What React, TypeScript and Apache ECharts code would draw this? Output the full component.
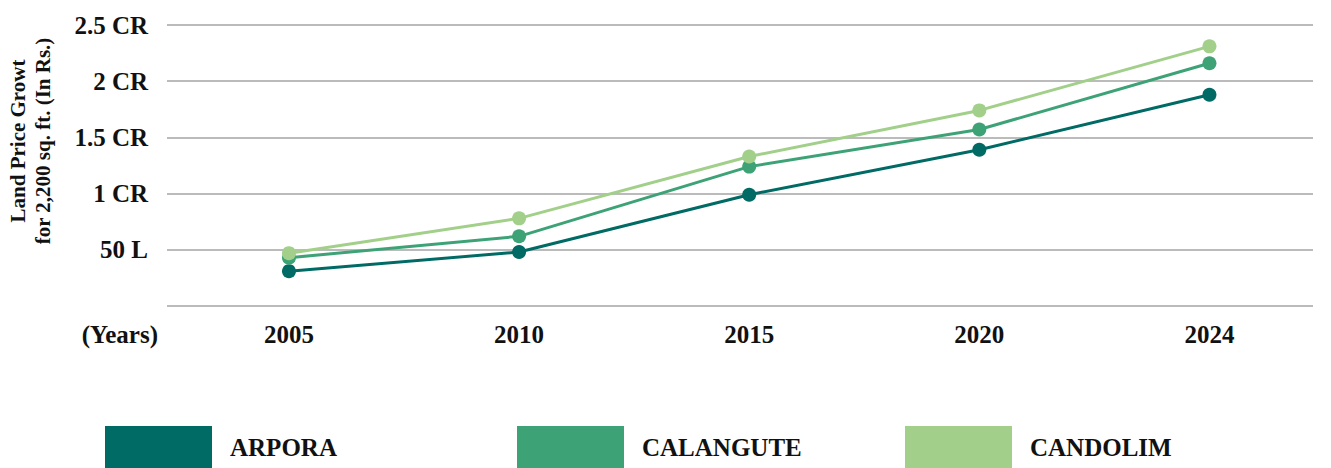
import React, { useEffect, useRef } from "react";
import * as echarts from "echarts";

const years = ["2005", "2010", "2015", "2020", "2024"];
const arpora = [0.31, 0.48, 0.99, 1.39, 1.88];
const calangute = [0.43, 0.62, 1.24, 1.57, 2.16];
const candolim = [0.47, 0.78, 1.33, 1.74, 2.31];
const yTickValues = [0, 0.5, 1, 1.5, 2, 2.5];
const yTickLabels = ["", "50 L", "1 CR", "1.5 CR", "2 CR", "2.5 CR"];
const seriesNames = ["ARPORA", "CALANGUTE", "CANDOLIM"];
const seriesColors = ["#006A65", "#3DA377", "#A2D08A"];
const legendLefts = [105, 517, 905];

const FONT = "'Liberation Serif', 'Times New Roman', serif";

export default function App() {
  const ref = useRef<HTMLDivElement>(null);
  useEffect(() => {
    if (!ref.current) return;
    const chart = echarts.init(ref.current, null, { renderer: "svg" });
    const allData = [arpora, calangute, candolim];
    const option: any = {
      animation: false,
      grid: { left: 167, right: 18, top: 25, bottom: 162 },
      xAxis: {
        type: "value",
        min: -0.53,
        max: 4.45,
        splitNumber: 5,
        axisLine: { show: false },
        axisTick: { show: false },
        splitLine: { show: false },
        axisLabel: {
          margin: 16,
          color: "#111",
          fontFamily: FONT,
          fontWeight: "bold",
          fontSize: 25,
          formatter: (v: number) => {
            const i = Math.round(v);
            return Math.abs(v - i) < 1e-6 && years[i] ? years[i] : "";
          },
        },
      },
      yAxis: {
        type: "value",
        min: 0,
        max: 2.5,
        interval: 0.5,
        axisLine: { show: false },
        axisTick: { show: false },
        splitLine: { show: true, lineStyle: { color: "#a5a5a5", width: 1.5 } },
        axisLabel: {
          margin: 19,
          color: "#111",
          fontFamily: FONT,
          fontWeight: "bold",
          fontSize: 25,
          formatter: (v: number) => {
            const idx = yTickValues.findIndex((t) => Math.abs(t - v) < 1e-6);
            return idx >= 0 ? yTickLabels[idx] : "";
          },
        },
      },
      legend: seriesNames.map((n, i) => ({
        data: [n],
        left: legendLefts[i],
        top: 426,
        icon: "rect",
        itemWidth: 107,
        itemHeight: 42,
        padding: 0,
        selectedMode: false,
        textStyle: {
          color: "#111",
          fontFamily: FONT,
          fontWeight: "bold",
          fontSize: 25,
          padding: [0, 0, 0, 13],
        },
      })),
      graphic: [
        {
          type: "text",
          x: 158,
          y: 334,
          style: {
            text: "(Years)",
            align: "right",
            verticalAlign: "middle",
            fill: "#111",
            font: `bold 25px ${FONT}`,
          },
        },
        {
          type: "text",
          x: 30,
          y: 141,
          rotation: Math.PI / 2,
          style: {
            text: "Land Price Growt\nfor 2,200 sq. ft. (In Rs.)",
            align: "center",
            verticalAlign: "middle",
            lineHeight: 25,
            fill: "#111",
            font: `bold 21px ${FONT}`,
          },
        },
      ],
      series: seriesNames.map((n, s) => ({
        name: n,
        type: "line",
        data: years.map((_, i) => [i, allData[s][i]]),
        symbol: "circle",
        symbolSize: 14,
        color: seriesColors[s],
        itemStyle: { color: seriesColors[s] },
        lineStyle: { width: 3, color: seriesColors[s] },
        z: 2 + s,
      })),
    };
    chart.setOption(option);
    return () => chart.dispose();
  }, []);
  return (
    <div
      ref={ref}
      style={{ position: "fixed", left: 0, top: 0, width: 1331, height: 468, background: "#fff" }}
    />
  );
}
